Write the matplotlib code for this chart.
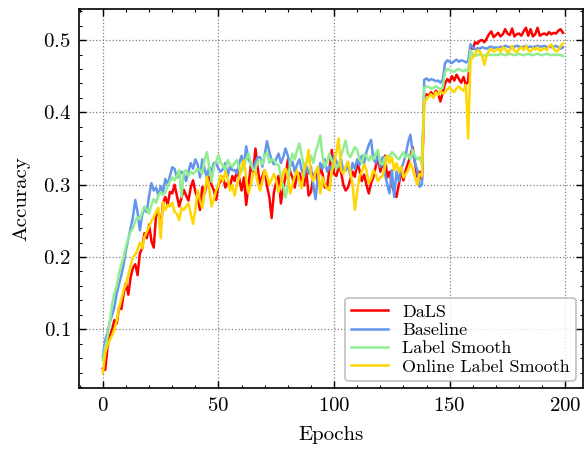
import matplotlib
matplotlib.use("Agg")
import matplotlib.pyplot as plt
import numpy as np
from matplotlib.ticker import MultipleLocator

# Accuracy per epoch
dals = [
    0.046, 0.044, 0.075, 0.090, 0.100, 0.113, 0.108, 0.130, 0.128, 0.150,
    0.164, 0.148, 0.172, 0.185, 0.190, 0.175, 0.205, 0.212, 0.233, 0.226,
    0.245, 0.222, 0.213, 0.258, 0.262, 0.240, 0.275, 0.283, 0.272, 0.290,
    0.288, 0.300, 0.285, 0.270, 0.282, 0.293, 0.285, 0.278, 0.296, 0.306,
    0.290, 0.282, 0.265, 0.297, 0.288, 0.302, 0.311, 0.300, 0.292, 0.279,
    0.300, 0.305, 0.311, 0.296, 0.303, 0.297, 0.312, 0.305, 0.320, 0.308,
    0.292, 0.310, 0.272, 0.300, 0.326, 0.318, 0.350, 0.322, 0.300, 0.312,
    0.320, 0.298, 0.283, 0.254, 0.290, 0.304, 0.312, 0.274, 0.296, 0.311,
    0.335, 0.318, 0.310, 0.296, 0.314, 0.316, 0.305, 0.299, 0.318, 0.285,
    0.290, 0.311, 0.318, 0.302, 0.325, 0.315, 0.296, 0.297, 0.322, 0.348,
    0.315, 0.312, 0.325, 0.318, 0.300, 0.292, 0.296, 0.307, 0.318, 0.311,
    0.330, 0.320, 0.305, 0.314, 0.300, 0.288, 0.302, 0.311, 0.325, 0.338,
    0.318, 0.329, 0.340, 0.310, 0.318, 0.300, 0.290, 0.283, 0.300, 0.318,
    0.306, 0.320, 0.330, 0.340, 0.352, 0.330, 0.311, 0.318, 0.306, 0.421,
    0.425, 0.423, 0.428, 0.422, 0.430, 0.426, 0.415, 0.427, 0.440, 0.446,
    0.442, 0.450, 0.444, 0.452, 0.446, 0.441, 0.449, 0.438, 0.443, 0.490,
    0.488, 0.497, 0.495, 0.499, 0.500, 0.497, 0.502, 0.508, 0.512, 0.504,
    0.507, 0.510, 0.505, 0.508, 0.515, 0.509, 0.507, 0.516, 0.505, 0.508,
    0.509, 0.506, 0.512, 0.517, 0.506, 0.515, 0.505, 0.508, 0.517, 0.506,
    0.508, 0.509, 0.507, 0.511, 0.508, 0.510, 0.509, 0.513, 0.515, 0.510,
]

baseline = [
    0.062, 0.085, 0.095, 0.110, 0.120, 0.131, 0.150, 0.163, 0.175, 0.190,
    0.210, 0.225, 0.240, 0.255, 0.279, 0.262, 0.237, 0.258, 0.268, 0.262,
    0.285, 0.302, 0.292, 0.296, 0.285, 0.298, 0.290, 0.308, 0.300, 0.312,
    0.324, 0.322, 0.310, 0.312, 0.318, 0.315, 0.305, 0.318, 0.330, 0.322,
    0.335, 0.328, 0.310, 0.335, 0.322, 0.310, 0.325, 0.318, 0.330, 0.330,
    0.322, 0.318, 0.322, 0.330, 0.312, 0.325, 0.320, 0.320, 0.315, 0.330,
    0.340, 0.325, 0.353, 0.335, 0.329, 0.322, 0.331, 0.338, 0.338, 0.325,
    0.342, 0.360, 0.345, 0.334, 0.328, 0.336, 0.343, 0.330, 0.338, 0.350,
    0.340, 0.325, 0.332, 0.318, 0.328, 0.335, 0.320, 0.310, 0.326, 0.315,
    0.325, 0.300, 0.280, 0.310, 0.330, 0.322, 0.335, 0.318, 0.325, 0.320,
    0.340, 0.332, 0.325, 0.335, 0.318, 0.320, 0.327, 0.313, 0.330, 0.322,
    0.335, 0.327, 0.340, 0.330, 0.345, 0.355, 0.362, 0.335, 0.330, 0.342,
    0.325, 0.338, 0.315, 0.300, 0.288, 0.320, 0.283, 0.318, 0.305, 0.322,
    0.330, 0.342, 0.358, 0.369, 0.345, 0.330, 0.320, 0.297, 0.300, 0.445,
    0.447, 0.444, 0.446, 0.445, 0.443, 0.444, 0.441, 0.445, 0.468, 0.472,
    0.470, 0.468, 0.471, 0.473, 0.470, 0.472, 0.471, 0.469, 0.471, 0.494,
    0.490, 0.487, 0.489, 0.488, 0.490, 0.489, 0.488, 0.490, 0.491, 0.489,
    0.490, 0.489, 0.491, 0.490, 0.492, 0.491, 0.490, 0.489, 0.491, 0.492,
    0.491, 0.490, 0.491, 0.492, 0.490, 0.491, 0.490, 0.491, 0.492, 0.491,
    0.491, 0.492, 0.490, 0.491, 0.490, 0.491, 0.492, 0.490, 0.488, 0.490,
]

label_smooth = [
    0.058, 0.075, 0.090, 0.110, 0.135, 0.150, 0.160, 0.178, 0.190, 0.200,
    0.215, 0.226, 0.235, 0.240, 0.250, 0.255, 0.252, 0.262, 0.270, 0.265,
    0.260, 0.272, 0.280, 0.275, 0.285, 0.290, 0.286, 0.290, 0.298, 0.305,
    0.310, 0.306, 0.312, 0.320, 0.283, 0.318, 0.320, 0.312, 0.318, 0.315,
    0.318, 0.322, 0.320, 0.315, 0.335, 0.345, 0.325, 0.304, 0.325, 0.332,
    0.341, 0.330, 0.327, 0.320, 0.334, 0.328, 0.325, 0.330, 0.334, 0.322,
    0.318, 0.327, 0.335, 0.343, 0.330, 0.320, 0.322, 0.332, 0.334, 0.328,
    0.340, 0.345, 0.330, 0.335, 0.334, 0.328, 0.327, 0.310, 0.298, 0.282,
    0.300, 0.330, 0.343, 0.335, 0.348, 0.357, 0.340, 0.325, 0.330, 0.335,
    0.340, 0.330, 0.345, 0.355, 0.368, 0.340, 0.325, 0.332, 0.343, 0.333,
    0.330, 0.322, 0.328, 0.340, 0.350, 0.361, 0.343, 0.338, 0.345, 0.352,
    0.348, 0.335, 0.330, 0.342, 0.340, 0.333, 0.340, 0.335, 0.343, 0.348,
    0.330, 0.328, 0.338, 0.335, 0.340, 0.345, 0.342, 0.338, 0.335, 0.340,
    0.345, 0.338, 0.342, 0.335, 0.348, 0.340, 0.335, 0.338, 0.327, 0.434,
    0.436, 0.435, 0.433, 0.434, 0.436, 0.434, 0.432, 0.434, 0.456, 0.460,
    0.459, 0.457, 0.456, 0.459, 0.460, 0.458, 0.457, 0.459, 0.457, 0.486,
    0.480, 0.478, 0.479, 0.480, 0.479, 0.478, 0.480, 0.479, 0.480, 0.479,
    0.480, 0.479, 0.481, 0.480, 0.479, 0.480, 0.481, 0.480, 0.479, 0.480,
    0.481, 0.480, 0.479, 0.480, 0.481, 0.480, 0.479, 0.480, 0.481, 0.480,
    0.479, 0.480, 0.481, 0.480, 0.479, 0.480, 0.479, 0.480, 0.479, 0.478,
]

online_ls = [
    0.040, 0.067, 0.078, 0.085, 0.092, 0.100, 0.112, 0.130, 0.142, 0.155,
    0.162, 0.175, 0.188, 0.200, 0.203, 0.210, 0.220, 0.212, 0.228, 0.235,
    0.242, 0.250, 0.255, 0.262, 0.268, 0.226, 0.276, 0.265, 0.272, 0.270,
    0.275, 0.262, 0.260, 0.251, 0.268, 0.265, 0.270, 0.274, 0.260, 0.246,
    0.265, 0.292, 0.278, 0.268, 0.290, 0.311, 0.295, 0.270, 0.280, 0.292,
    0.300, 0.313, 0.305, 0.318, 0.308, 0.292, 0.300, 0.285, 0.300, 0.311,
    0.325, 0.334, 0.308, 0.288, 0.300, 0.315, 0.318, 0.302, 0.292, 0.305,
    0.320, 0.312, 0.300, 0.308, 0.315, 0.305, 0.290, 0.300, 0.318, 0.322,
    0.310, 0.288, 0.300, 0.312, 0.320, 0.305, 0.295, 0.320, 0.330, 0.348,
    0.312, 0.305, 0.318, 0.325, 0.288, 0.310, 0.300, 0.295, 0.292, 0.318,
    0.330, 0.345, 0.364, 0.320, 0.315, 0.325, 0.332, 0.318, 0.300, 0.265,
    0.290, 0.311, 0.318, 0.328, 0.320, 0.302, 0.308, 0.320, 0.315, 0.305,
    0.310, 0.312, 0.325, 0.340, 0.330, 0.338, 0.320, 0.330, 0.318, 0.325,
    0.310, 0.315, 0.320, 0.330, 0.322, 0.310, 0.300, 0.315, 0.312, 0.415,
    0.418, 0.422, 0.425, 0.420, 0.428, 0.424, 0.430, 0.426, 0.428, 0.432,
    0.435, 0.430, 0.428, 0.433, 0.436, 0.432, 0.430, 0.438, 0.364, 0.472,
    0.476, 0.480, 0.486, 0.485, 0.478, 0.466, 0.478, 0.485, 0.488, 0.484,
    0.486, 0.488, 0.484, 0.490, 0.488, 0.482, 0.486, 0.492, 0.485, 0.483,
    0.488, 0.490, 0.486, 0.492, 0.486, 0.484, 0.489, 0.487, 0.490, 0.485,
    0.487, 0.489, 0.486, 0.491, 0.494, 0.488, 0.484, 0.486, 0.492, 0.495,
]

series = [
    ("DaLS", dals, "#FF0000"),
    ("Baseline", baseline, "#6495ED"),
    ("Label Smooth", label_smooth, "#90EE90"),
    ("Online Label Smooth", online_ls, "#FFD700"),
]

plt.rcParams.update({
    "font.family": "cmr10",
    "mathtext.fontset": "cm",
    "axes.formatter.use_mathtext": True,
    "axes.linewidth": 1.2,
    "xtick.direction": "in",
    "ytick.direction": "in",
    "xtick.top": True,
    "ytick.right": True,
    "xtick.minor.visible": True,
    "ytick.minor.visible": True,
    "xtick.major.size": 5,
    "ytick.major.size": 5,
    "xtick.minor.size": 2.5,
    "ytick.minor.size": 2.5,
    "xtick.major.width": 1.0,
    "ytick.major.width": 1.0,
    "xtick.minor.width": 0.8,
    "ytick.minor.width": 0.8,
})

W, H = 584, 451
fig = plt.figure(figsize=(W / 100, H / 100), dpi=100)
ax = fig.add_axes([79.3 / W, 1 - 388.3 / H, (583.3 - 79.3) / W, (388.3 - 9.3) / H])

for name, values, color in series:
    ax.plot(np.arange(len(values)), values, color=color, linewidth=1.8, label=name)

ax.set_xlim(-10.2, 207.8)
ax.set_ylim(0.0185, 0.5425)
ax.xaxis.set_major_locator(MultipleLocator(50))
ax.xaxis.set_minor_locator(MultipleLocator(10))
ax.yaxis.set_major_locator(MultipleLocator(0.1))
ax.yaxis.set_minor_locator(MultipleLocator(0.02))
ax.tick_params(which="major", labelsize=15, pad=6)
ax.grid(True, which="major", linestyle=":", color="gray", linewidth=0.9)

ax.set_xlabel("Epochs", fontsize=15, labelpad=8)
ax.set_ylabel("Accuracy", fontsize=15, labelpad=9)

leg = ax.legend(loc="lower right", fontsize=13, fancybox=True, framealpha=0.8,
                edgecolor="#b0b0b0", borderaxespad=0.4, labelspacing=0.15,
                handlelength=2.0, borderpad=0.35)
leg.get_frame().set_linewidth(1.2)

fig.savefig("out.png", dpi=100)
